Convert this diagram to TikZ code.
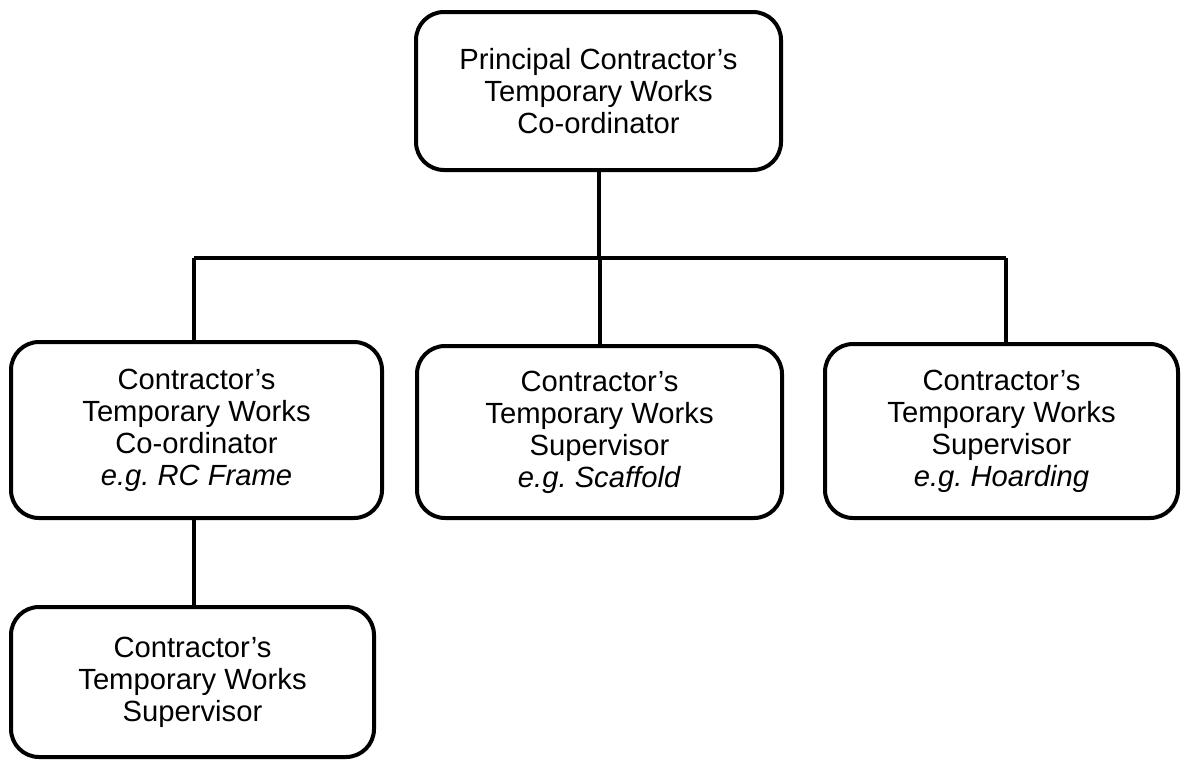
\documentclass[tikz,border=0pt]{standalone}
\usepackage{fontspec}
\setmainfont{Liberation Sans}
\frenchspacing
\tikzset{
  boite/.style = {draw, line width = 2pt, rounded corners = 14pt, align = center,
    inner sep = 0pt, font = \fontsize{14.6}{16}\selectfont},
  trait/.style = {line width = 2pt}
}
\begin{document}
\begin{tikzpicture}[x = 0.5pt, y = -0.5pt]
  \useasboundingbox (0,0) rectangle (1182,760);

  % Les boites
  \node[boite, minimum width = 182.5pt, minimum height = 79pt] (pc) at (598.5,91)
    {Principal Contractor's\\Temporary Works\\Co-ordinator};
  \node[boite, minimum width = 185.5pt, minimum height = 88pt] (coord) at (196.5,430)
    {Contractor's\\Temporary Works\\Co-ordinator\\\textit{e.g. RC Frame}};
  \node[boite, minimum width = 182.5pt, minimum height = 86pt] (scaf) at (599.5,432)
    {Contractor's\\Temporary Works\\Supervisor\\\textit{e.g. Scaffold}};
  \node[boite, minimum width = 176.5pt, minimum height = 87pt] (hoard) at (1001.5,431)
    {Contractor's\\Temporary Works\\Supervisor\\\textit{e.g. Hoarding}};
  \node[boite, minimum width = 181.5pt, minimum height = 75pt] (sup) at (192.5,682)
    {Contractor's\\Temporary Works\\Supervisor};

  % Les traits
  \coordinate (busL) at (194,258);
  \coordinate (busR) at (1006,258);
  \draw[trait] (busL) -- (busR);
  \draw[trait] (pc.south) -- (pc.south |- busL);
  \draw[trait] (busL) -- (busL |- coord.north);
  \draw[trait] (scaf.north |- busL) -- (scaf.north);
  \draw[trait] (busR) -- (busR |- hoard.north);
  \draw[trait] (coord.south -| busL) -- (busL |- sup.north);

\end{tikzpicture}
\end{document}
